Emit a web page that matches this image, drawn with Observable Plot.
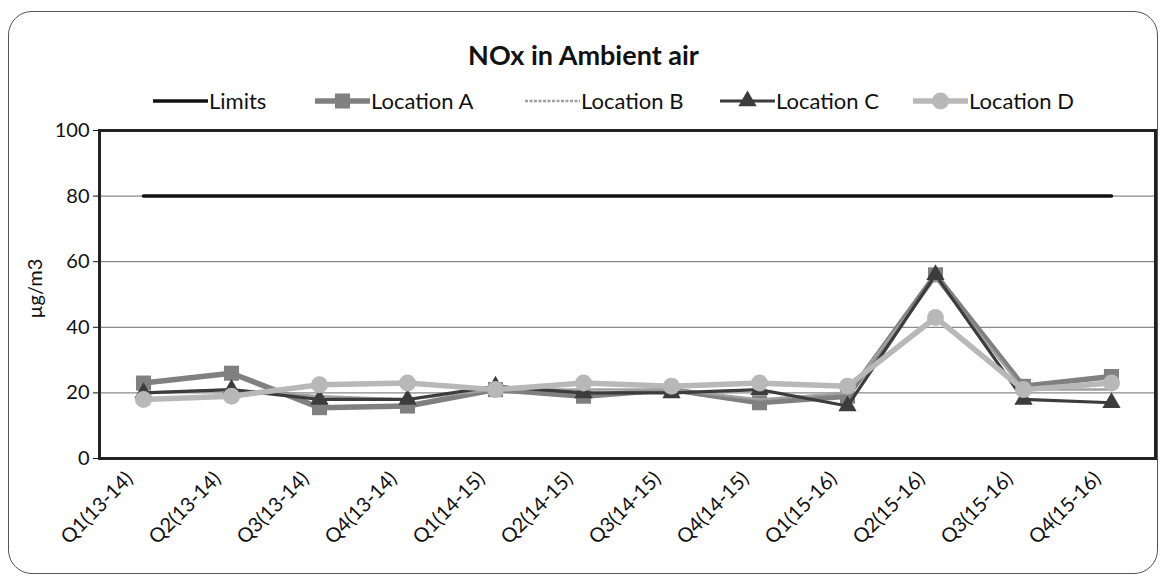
<!DOCTYPE html>
<html>
<head>
<meta charset="utf-8">
<script src="https://cdn.jsdelivr.net/npm/d3@7"></script>
<script src="https://cdn.jsdelivr.net/npm/@observablehq/plot@0.6"></script>
<style>
  html, body { margin: 0; padding: 0; background: #fff; }
  #wrap { position: relative; width: 1167px; height: 580px; background: #fff; font-family: Lato, "DejaVu Sans", sans-serif; color: #111; overflow: hidden; }
  #border { position: absolute; left: 8px; top: 11px; width: 1148px; height: 561px; border: 1.5px solid #555; border-radius: 24px; }
  #title { position: absolute; top: 38px; left: 0; width: 1167px; text-align: center; font-weight: bold; font-size: 27px; }
  #legend { position: absolute; top: 87px; left: 0; width: 1167px; height: 26px; }
  .item { position: absolute; display: flex; align-items: center; font-size: 22px; white-space: nowrap; }
  .item svg { display: block; }
  #chart { position: absolute; left: 0; top: 110px; }
</style>
</head>
<body>
<div id="wrap">
  <div id="border"></div>
  <div id="title">NOx in Ambient air</div>
  <div id="legend"></div>
  <div id="chart"></div>
</div>
<script>
// ---- Data ----
const categories = ["Q1(13-14)", "Q2(13-14)", "Q3(13-14)", "Q4(13-14)", "Q1(14-15)", "Q2(14-15)",
                    "Q3(14-15)", "Q4(14-15)", "Q1(15-16)", "Q2(15-16)", "Q3(15-16)", "Q4(15-16)"];
const limits    = [80, 80, 80, 80, 80, 80, 80, 80, 80, 80, 80, 80];
const locationA = [23, 26, 15.5, 16, 21, 19, 21, 17, 19, 56, 22, 25];
const locationB = [20, 21, 19, 18, 21, 21, 21, 18, 20, 55, 21, 21];
const locationC = [20, 21, 18, 18, 22, 20, 20, 21, 16, 56, 18, 17];
const locationD = [18, 19, 22.5, 23, 21, 23, 22, 23, 22, 43, 21, 23];
const yTicks = [0, 20, 40, 60, 80, 100];
const gridTicks = [20, 40, 60, 80];
const yLabel = "µg/m3";

const rows = categories.map((c, i) => ({
  cat: c, lim: limits[i], a: locationA[i], b: locationB[i], c: locationC[i], d: locationD[i]
}));

// ---- Series styles ----
const series = [
  {name: "Limits",     key: "lim", color: "#111111", width: 3.5, symbol: null,       dash: null, left: 153},
  {name: "Location A", key: "a",   color: "#808080", width: 5.5, symbol: "square",   r: 8.5, dash: null, left: 315},
  {name: "Location B", key: "b",   color: "#a0a0a0", width: 2.5, symbol: null,       dash: "3 1.5", left: 525},
  {name: "Location C", key: "c",   color: "#3c3c3c", width: 3.2, symbol: "triangle", r: 6.8, dash: null, left: 720},
  {name: "Location D", key: "d",   color: "#b8b8b8", width: 5.5, symbol: "circle",   r: 8.5, dash: null, left: 913}
];

// ---- Legend ----
const legend = document.getElementById("legend");
for (const s of series) {
  const item = document.createElement("div");
  item.className = "item";
  item.style.left = s.left + "px";
  const svg = d3.create("svg").attr("width", 55).attr("height", 26);
  svg.append("line").attr("x1", 0).attr("x2", 55).attr("y1", 13).attr("y2", 13)
    .attr("stroke", s.color).attr("stroke-width", s.width)
    .attr("stroke-dasharray", s.dash);
  if (s.symbol) {
    const sym = {square: d3.symbolSquare, triangle: d3.symbolTriangle, circle: d3.symbolCircle}[s.symbol];
    svg.append("path").attr("transform", "translate(27.5,13)")
      .attr("d", d3.symbol(sym, Math.PI * s.r * s.r)()).attr("fill", s.color);
  }
  item.appendChild(svg.node());
  const t = document.createElement("span");
  t.textContent = s.name;
  t.style.marginLeft = "1px";
  item.appendChild(t);
  legend.appendChild(item);
}

// ---- Chart ----
const marks = [
  Plot.gridY(gridTicks, {stroke: "#8a8a8a", strokeOpacity: 1, strokeWidth: 1.2}),
  Plot.axisY(yTicks, {tickSize: 6, tickPadding: 4, fontSize: 20, label: null}),
  Plot.text([yLabel], {text: d => d, frameAnchor: "left", rotate: -90, dx: -64, dy: 24, fontSize: 20, fill: "#111"}),
  Plot.axisX({tickRotate: -45, tickSize: 0, tickPadding: 17, dx: -14, fontSize: 20, label: null})
];
for (const s of series) {
  marks.push(Plot.line(rows, {x: "cat", y: s.key, stroke: s.color, strokeWidth: s.width, strokeDasharray: s.dash}));
  if (s.symbol) {
    marks.push(Plot.dot(rows, {x: "cat", y: s.key, symbol: () => s.symbol, r: s.r, fill: s.color, stroke: "none"}));
  }
}
marks.push(Plot.frame({stroke: "#222", strokeWidth: 3}));

const chart = Plot.plot({
  width: 1167,
  height: 460,
  marginTop: 20,
  marginBottom: 112,
  marginLeft: 99,
  marginRight: 12,
  x: {type: "point", domain: categories, padding: 0.5},
  y: {domain: [0, 100]},
  style: {fontFamily: "Lato, 'DejaVu Sans', sans-serif", fontSize: "20px", color: "#111", background: "transparent"},
  marks
});
document.getElementById("chart").appendChild(chart);
</script>
</body>
</html>
